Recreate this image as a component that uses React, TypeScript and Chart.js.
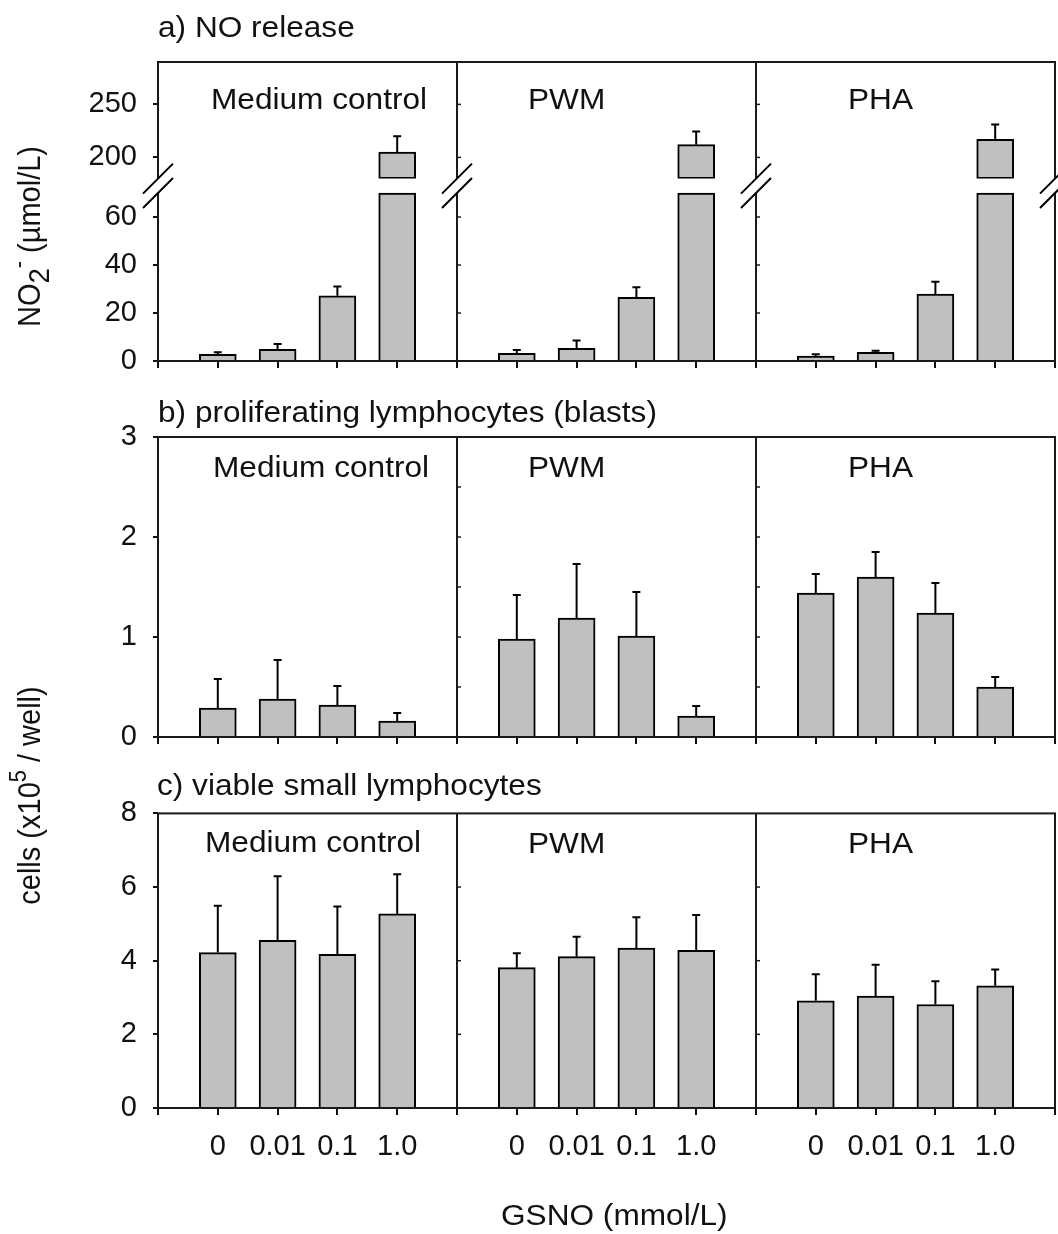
import React, { useEffect, useRef } from 'react';
import { Chart, registerables } from 'chart.js';

Chart.register(...registerables);

const FONT = "'Liberation Sans', Arial, Helvetica, sans-serif";
const INK = '#111111';
const FRAME = '#1a1a1a';
const BAR_FILL = '#c0c0c0';

const DOSE_LABELS = ['0', '0.01', '0.1', '1.0'];
const PANEL_NAMES = ['Medium control', 'PWM', 'PHA'];

// a) NO release – NO2- (µmol/L)
const NO_MEDIUM = [2.8, 4.9, 27.2, 205];
const NO_MEDIUM_SD = [0.8, 2.2, 3.8, 15];
const NO_PWM = [3.2, 5.3, 26.5, 212];
const NO_PWM_SD = [1.4, 3.2, 4.2, 12.5];
const NO_PHA = [2.1, 3.6, 27.9, 217];
const NO_PHA_SD = [0.7, 0.7, 5.1, 14];
const NO_LOW_TICKS = [0, 20, 40, 60];
const NO_HIGH_TICKS = [200, 250];
const NO_LOW_CUT = 70; // top of lower axis segment
const NO_LOW_AXIS_MAX = 76; // lower segment incl. break gap
const NO_HIGH_MIN = 180;
const NO_HIGH_MAX = 290;

// b) proliferating lymphocytes (blasts) – cells x10^5 / well
const BLAST_MEDIUM = [0.29, 0.38, 0.32, 0.16];
const BLAST_MEDIUM_SD = [0.29, 0.39, 0.19, 0.08];
const BLAST_PWM = [0.98, 1.19, 1.01, 0.21];
const BLAST_PWM_SD = [0.44, 0.54, 0.44, 0.1];
const BLAST_PHA = [1.44, 1.6, 1.24, 0.5];
const BLAST_PHA_SD = [0.19, 0.25, 0.3, 0.1];
const BLAST_TICKS = [0, 1, 2, 3];
const BLAST_MINOR_TICKS = [0.5, 1, 1.5, 2, 2.5];

// c) viable small lymphocytes – cells x10^5 / well
const SMALL_MEDIUM = [4.22, 4.55, 4.17, 5.27];
const SMALL_MEDIUM_SD = [1.27, 1.74, 1.3, 1.08];
const SMALL_PWM = [3.81, 4.11, 4.34, 4.28];
const SMALL_PWM_SD = [0.39, 0.54, 0.84, 0.96];
const SMALL_PHA = [2.91, 3.04, 2.81, 3.32];
const SMALL_PHA_SD = [0.72, 0.85, 0.63, 0.44];
const SMALL_TICKS = [0, 2, 4, 6, 8];
const SMALL_MINOR_TICKS = [2, 4, 6];

function spread<T>(panels: T[][], gap: T): T[] {
  const out: T[] = [gap];
  panels.forEach((p) => {
    out.push(...p, gap);
  });
  return out;
}

const X_LABELS = spread(PANEL_NAMES.map(() => DOSE_LABELS), '');
const DIVIDERS = PANEL_NAMES.slice(1).map((_, i) => (i + 1) * (DOSE_LABELS.length + 1));
const EDGES = [0, ...DIVIDERS, X_LABELS.length - 1];

const CANVAS_W = 1058;
const AXIS_W = 158;
const TICK_SIZE = 29;
const TEXT_SIZE = 29;
const TEXT_STRETCH = 1.09;

const errorBarPlugin = {
  id: 'errorBars',
  afterDatasetsDraw(chart: any) {
    const ctx = chart.ctx;
    chart.data.datasets.forEach((ds: any, i: number) => {
      if (!ds.errorBars) return;
      const meta = chart.getDatasetMeta(i);
      const ys = chart.scales[meta.yAxisID];
      ctx.save();
      ctx.strokeStyle = '#000';
      ctx.lineWidth = 2;
      meta.data.forEach((el: any, j: number) => {
        const v = ds.data[j];
        const e = ds.errorBars[j];
        if (v == null || e == null) return;
        const x = el.x;
        const y0 = el.y;
        const y1 = ys.getPixelForValue(v + e);
        ctx.beginPath();
        ctx.moveTo(x, y0);
        ctx.lineTo(x, y1);
        ctx.moveTo(x - 4, y1);
        ctx.lineTo(x + 4, y1);
        ctx.stroke();
      });
      ctx.restore();
    });
  },
};

const framePlugin = {
  id: 'panelFrame',
  afterDraw(chart: any, _args: any, opts: any) {
    const { ctx, chartArea: a, scales } = chart;
    const xs = scales.x;
    ctx.save();
    ctx.strokeStyle = FRAME;
    ctx.lineWidth = 2;
    ctx.strokeRect(a.left, a.top, a.right - a.left, a.bottom - a.top);
    const divs: number[] = opts.dividers || [];
    divs.forEach((d) => {
      const px = xs.getPixelForValue(d);
      ctx.beginPath();
      ctx.moveTo(px, a.top);
      ctx.lineTo(px, a.bottom);
      ctx.stroke();
    });
    ctx.lineWidth = 1.5;
    (opts.minorTicks || []).forEach((mt: any) => {
      const ys = scales[mt.axis];
      mt.values.forEach((v: number) => {
        const py = ys.getPixelForValue(v);
        divs.forEach((d) => {
          const px = xs.getPixelForValue(d);
          ctx.beginPath();
          ctx.moveTo(px, py);
          ctx.lineTo(px + 4, py);
          ctx.stroke();
        });
      });
    });
    if (opts.breaks) {
      const b = opts.breaks;
      const y1 = scales[b.upper.axis].getPixelForValue(b.upper.value);
      const y2 = scales[b.lower.axis].getPixelForValue(b.lower.value);
      const h = 15;
      (opts.edges || []).forEach((d: number) => {
        const px = xs.getPixelForValue(d);
        ctx.fillStyle = '#ffffff';
        ctx.beginPath();
        ctx.moveTo(px - h, y1 + h);
        ctx.lineTo(px + h, y1 - h);
        ctx.lineTo(px + h, y2 - h);
        ctx.lineTo(px - h, y2 + h);
        ctx.closePath();
        ctx.fill();
        ctx.strokeStyle = '#000';
        ctx.lineWidth = 2;
        ctx.beginPath();
        ctx.moveTo(px - h, y1 + h);
        ctx.lineTo(px + h, y1 - h);
        ctx.moveTo(px - h, y2 + h);
        ctx.lineTo(px + h, y2 - h);
        ctx.stroke();
      });
    }
    ctx.restore();
  },
};

function xScale(showLabels: boolean, axisHeight: number) {
  return {
    type: 'category',
    offset: false,
    grid: {
      display: true,
      offset: false,
      drawOnChartArea: false,
      drawTicks: true,
      tickLength: 7,
      color: INK,
      lineWidth: 2,
    },
    border: { display: false },
    ticks: {
      display: showLabels,
      autoSkip: false,
      maxRotation: 0,
      minRotation: 0,
      padding: 15,
      color: INK,
      font: { family: FONT, size: TICK_SIZE },
    },
    afterFit: (s: any) => {
      s.height = axisHeight;
      s.paddingLeft = 0;
      s.paddingRight = 0;
    },
  };
}

function yScale(min: number, max: number, ticks: number[], extra: any = {}) {
  return {
    type: 'linear',
    position: 'left',
    min,
    max,
    afterBuildTicks: (s: any) => {
      s.ticks = ticks.map((v) => ({ value: v }));
    },
    afterFit: (s: any) => {
      s.width = AXIS_W;
    },
    grid: {
      display: true,
      drawOnChartArea: false,
      drawTicks: true,
      tickLength: 5,
      color: INK,
      lineWidth: 2,
    },
    border: { display: false },
    ticks: {
      autoSkip: false,
      padding: 16,
      color: INK,
      font: { family: FONT, size: TICK_SIZE },
      callback: (v: any) => String(v),
    },
    ...extra,
  };
}

const barStyle = {
  backgroundColor: BAR_FILL,
  borderColor: '#000000',
  borderWidth: 2,
  barThickness: 37,
  grouped: false,
};

function baseOptions(padTop: number) {
  return {
    animation: false,
    responsive: false,
    maintainAspectRatio: false,
    devicePixelRatio: 1,
    layout: { padding: { top: padTop, right: 3, left: 0, bottom: 0 } },
  };
}

function makeNoChart(canvas: HTMLCanvasElement) {
  const all = spread([NO_MEDIUM, NO_PWM, NO_PHA], null as any) as (number | null)[];
  const sd = spread([NO_MEDIUM_SD, NO_PWM_SD, NO_PHA_SD], null as any) as (number | null)[];
  const lowData = all.map((v) => (v == null ? null : Math.min(v, NO_LOW_CUT)));
  const lowErr = all.map((v, i) => (v != null && v <= NO_LOW_CUT ? sd[i] : null));
  const highData = all.map((v) => (v != null && v > NO_LOW_CUT ? v : null));
  const highErr = all.map((v, i) => (v != null && v > NO_LOW_CUT ? sd[i] : null));
  return new Chart(canvas, {
    type: 'bar',
    data: {
      labels: X_LABELS,
      datasets: [
        { data: lowData, yAxisID: 'yLow', errorBars: lowErr, ...barStyle } as any,
        {
          data: highData,
          yAxisID: 'yHigh',
          base: NO_HIGH_MIN,
          borderSkipped: false,
          errorBars: highErr,
          ...barStyle,
        } as any,
      ],
    },
    options: {
      ...baseOptions(62),
      plugins: {
        legend: { display: false },
        tooltip: { enabled: false },
        panelFrame: {
          dividers: DIVIDERS,
          edges: EDGES,
          minorTicks: [
            { axis: 'yLow', values: NO_LOW_TICKS },
            { axis: 'yHigh', values: NO_HIGH_TICKS },
          ],
          breaks: {
            upper: { axis: 'yHigh', value: NO_HIGH_MIN },
            lower: { axis: 'yLow', value: NO_LOW_CUT },
          },
        },
      },
      scales: {
        x: xScale(false, 39),
        yLow: yScale(0, NO_LOW_AXIS_MAX, NO_LOW_TICKS, { stack: 'no', stackWeight: 182.4 }),
        yHigh: yScale(NO_HIGH_MIN, NO_HIGH_MAX, NO_HIGH_TICKS, { stack: 'no', stackWeight: 116.6 }),
      },
    } as any,
    plugins: [errorBarPlugin, framePlugin],
  });
}

function makeSimpleChart(
  canvas: HTMLCanvasElement,
  panels: number[][],
  sds: number[][],
  min: number,
  max: number,
  ticks: number[],
  minor: number[],
  padTop: number,
  axisH: number,
  showX: boolean
) {
  return new Chart(canvas, {
    type: 'bar',
    data: {
      labels: X_LABELS,
      datasets: [
        {
          data: spread(panels, null as any),
          errorBars: spread(sds, null as any),
          ...barStyle,
        } as any,
      ],
    },
    options: {
      ...baseOptions(padTop),
      plugins: {
        legend: { display: false },
        tooltip: { enabled: false },
        panelFrame: {
          dividers: DIVIDERS,
          edges: EDGES,
          minorTicks: [{ axis: 'y', values: minor }],
        },
      },
      scales: {
        x: xScale(showX, axisH),
        y: yScale(min, max, ticks),
      },
    } as any,
    plugins: [errorBarPlugin, framePlugin],
  });
}

function Txt({ x, baseline, children, size = TEXT_SIZE }: any) {
  return (
    <div
      style={{
        position: 'absolute',
        left: x,
        top: baseline - 0.8465 * size,
        fontSize: size,
        lineHeight: `${size}px`,
        whiteSpace: 'nowrap',
        transform: `scaleX(${TEXT_STRETCH})`,
        transformOrigin: 'left center',
      }}
    >
      {children}
    </div>
  );
}

function VTxt({ cx, cy, children, size = TEXT_SIZE }: any) {
  const W = 500;
  return (
    <div
      style={{
        position: 'absolute',
        left: cx - W / 2,
        top: cy - size / 2,
        width: W,
        height: size,
        fontSize: size,
        lineHeight: `${size}px`,
        textAlign: 'center',
        whiteSpace: 'nowrap',
        transform: `rotate(-90deg) scaleY(${TEXT_STRETCH})`,
        transformOrigin: 'center center',
      }}
    >
      {children}
    </div>
  );
}

const subStyle: any = { fontSize: '0.95em', verticalAlign: '-0.3em', lineHeight: 0 };
const supStyle: any = { fontSize: '0.75em', verticalAlign: '0.6em', lineHeight: 0 };

const PANEL_LABEL_X = [211, 528, 848];

export default function App() {
  const refA = useRef<HTMLCanvasElement>(null);
  const refB = useRef<HTMLCanvasElement>(null);
  const refC = useRef<HTMLCanvasElement>(null);

  useEffect(() => {
    const charts = [
      makeNoChart(refA.current!),
      makeSimpleChart(
        refB.current!,
        [BLAST_MEDIUM, BLAST_PWM, BLAST_PHA],
        [BLAST_MEDIUM_SD, BLAST_PWM_SD, BLAST_PHA_SD],
        0,
        3,
        BLAST_TICKS,
        BLAST_MINOR_TICKS,
        37,
        43,
        false
      ),
      makeSimpleChart(
        refC.current!,
        [SMALL_MEDIUM, SMALL_PWM, SMALL_PHA],
        [SMALL_MEDIUM_SD, SMALL_PWM_SD, SMALL_PHA_SD],
        0,
        8,
        SMALL_TICKS,
        SMALL_MINOR_TICKS,
        29,
        126,
        true
      ),
    ];
    return () => charts.forEach((c) => c.destroy());
  }, []);

  return (
    <div
      style={{
        position: 'absolute',
        left: 0,
        top: 0,
        width: CANVAS_W,
        height: 1234,
        background: '#ffffff',
        fontFamily: FONT,
        color: INK,
        overflow: 'hidden',
      }}
    >
      <canvas ref={refA} width={CANVAS_W} height={400} style={{ position: 'absolute', left: 0, top: 0 }} />
      <canvas ref={refB} width={CANVAS_W} height={380} style={{ position: 'absolute', left: 0, top: 400 }} />
      <canvas ref={refC} width={CANVAS_W} height={454} style={{ position: 'absolute', left: 0, top: 780 }} />

      <Txt x={158} baseline={38}>a) NO release</Txt>
      <Txt x={158} baseline={423}>b) proliferating lymphocytes (blasts)</Txt>
      <Txt x={157} baseline={796}>c) viable small lymphocytes</Txt>

      <Txt x={PANEL_LABEL_X[0]} baseline={110}>{PANEL_NAMES[0]}</Txt>
      <Txt x={PANEL_LABEL_X[1]} baseline={110}>{PANEL_NAMES[1]}</Txt>
      <Txt x={PANEL_LABEL_X[2]} baseline={110}>{PANEL_NAMES[2]}</Txt>

      <Txt x={213} baseline={478}>{PANEL_NAMES[0]}</Txt>
      <Txt x={PANEL_LABEL_X[1]} baseline={478}>{PANEL_NAMES[1]}</Txt>
      <Txt x={PANEL_LABEL_X[2]} baseline={478}>{PANEL_NAMES[2]}</Txt>

      <Txt x={205} baseline={853}>{PANEL_NAMES[0]}</Txt>
      <Txt x={PANEL_LABEL_X[1]} baseline={854}>{PANEL_NAMES[1]}</Txt>
      <Txt x={PANEL_LABEL_X[2]} baseline={854}>{PANEL_NAMES[2]}</Txt>

      <Txt x={501} baseline={1226}>GSNO (mmol/L)</Txt>

      <VTxt cx={30} cy={236}>
        NO<span style={subStyle}>2</span>
        <span style={supStyle}>-</span> (µmol/L)
      </VTxt>
      <VTxt cx={30} cy={795}>
        cells (x10<span style={supStyle}>5</span> / well)
      </VTxt>
    </div>
  );
}
